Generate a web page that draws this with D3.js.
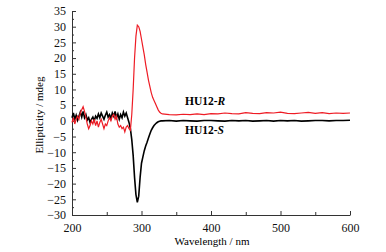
<!DOCTYPE html>
<html>
  <head>
    <meta charset="utf-8">
    <title>CD spectra HU12</title>
    <script src="https://d3js.org/d3.v7.min.js"></script>
    <style>
      body { margin: 0; background: #fff; }
      svg text { font-family: "Times New Roman", "Liberation Serif", Times, serif; }
    </style>
  </head>
  <body>
    <div id="container"></div>
    <script>
      // DATA
      const wlScan = d3.range(200, 331, 2);
      const wlTail = d3.range(340, 601, 10);
      const wavelengths = wlScan.concat(wlTail);

      const hu12S = [
        1.0, 2.5, 0.5, 1.8, 0.2, 1.5, 2.8, 1.2, 3.0, 1.0,
        2.0, 0.3, 1.0, -0.5, 0.5, 1.2, 0.0, 1.5, 0.8, 2.2,
        1.0, 2.5, 1.5, 0.5, 1.8, 2.8, 1.2, 2.0, 0.8, 2.5,
        1.5, 3.0, 1.0, 2.2, 0.5, 2.0, 1.0, 2.8, 1.5, 2.5,
        1.0, -0.5, -2.5, -6, -11, -18, -23.5, -26, -24, -18,
        -13.5, -11.5, -9.5, -8, -6.8, -5.5, -4.2, -3, -2.2, -1.5,
        -1.0, -0.6, -0.3, -0.1, 0, 0,
        0.1, -0.1, 0.1, 0, -0.1, 0.1, 0.1, 0, -0.1, 0.1,
        0, 0.1, -0.1, 0, 0.1, -0.1, 0.1, 0, 0.1, -0.1,
        0, 0.1, 0.1, 0, 0.1, 0.1, 0.2
      ];

      const hu12R = [
        -0.5, 1.0, -1.0, 0.5, 1.5, 0.5, 2.5, 3.5, 4.5, 3.0,
        1.0, -1.0, -2.5, -1.5, 0.0, -1.0, 0.5, -1.5, 0.0, -2.0,
        -0.5, 0.5, -1.0, -2.5, -1.0, -1.5, 0.0, 1.0, 0.0, 1.5,
        2.0, 0.5, 1.5, -1.0, -2.0, -1.5, -2.5, -2.0, -3.5, -2.0,
        -1.5, -2.5, -3.0, 2, 10, 20, 27, 30.5, 30, 28.5,
        26, 23.5, 21, 18, 15.5, 13, 11, 9, 7.5, 6.5,
        5.5, 4.5, 3.5, 2.8, 2.4, 2.2,
        2.0, 1.9, 2.1, 2.0, 2.2, 2.0, 2.3, 2.2, 2.5, 2.3,
        2.2, 2.6, 2.4, 2.3, 2.6, 2.5, 2.8, 2.4, 2.3, 2.5,
        2.7, 2.4, 2.6, 2.3, 2.5, 2.4, 2.5
      ];

      const xTicks = [200, 300, 400, 500, 600];
      const yTicks = d3.range(-30, 36, 5);
      const seriesNames = ["HU12-", "HU12-"];
      const seriesSuffix = ["R", "S"];

      // SIZE
      const width = 386, height = 252;
      const svg = d3.select("#container").append("svg")
        .attr("width", width)
        .attr("height", height);

      const x = d3.scaleLinear().domain([200, 600]).range([72, 350]);
      const y = d3.scaleLinear().domain([-30, 35]).range([215, 11]);

      // AXES (inward ticks)
      const xAxis = svg.append("g").attr("transform", "translate(0,215)");
      xAxis.call(d3.axisBottom(x).tickValues(d3.range(250, 600, 100)).tickSize(-3).tickFormat(""));
      xAxis.call(g => g.select(".domain").remove());
      const xAxisMaj = svg.append("g").attr("transform", "translate(0,215)");
      xAxisMaj.call(d3.axisBottom(x).tickValues(xTicks).tickSizeInner(-4).tickSizeOuter(0).tickPadding(8));

      const yAxis = svg.append("g").attr("transform", "translate(72,0)");
      yAxis.call(d3.axisLeft(y).tickValues(d3.range(-27.5, 35, 5)).tickSize(-2).tickFormat(""));
      yAxis.call(g => g.select(".domain").remove());
      const yAxisMaj = svg.append("g").attr("transform", "translate(72,0)");
      yAxisMaj.call(d3.axisLeft(y).tickValues(yTicks).tickSizeInner(-4).tickSizeOuter(0).tickPadding(6)
        .tickFormat(d => d < 0 ? "\u2212" + Math.abs(d) : d));

      svg.selectAll("g").attr("font-family", null);
      svg.selectAll(".tick text").attr("font-size", 12).attr("fill", "#111");
      svg.selectAll(".domain, .tick line").attr("stroke", "#333").attr("stroke-width", 1);

      // LINES
      const line = s => d3.line()
        .x((d, i) => x(wavelengths[i]))
        .y(d => y(d))(s);

      svg.append("path").attr("d", line(hu12S))
        .attr("fill", "none").attr("stroke", "#000").attr("stroke-width", 1.6);
      svg.append("path").attr("d", line(hu12R))
        .attr("fill", "none").attr("stroke", "#ee1c25").attr("stroke-width", 1.2);

      // LABELS
      const labY = [105, 134];
      seriesNames.forEach((n, i) => {
        const t = svg.append("text").attr("x", 185).attr("y", labY[i])
          .attr("font-size", 11.5).attr("font-weight", "bold").text(n);
        t.append("tspan").attr("font-style", "italic").text(seriesSuffix[i]);
      });

      svg.append("text").attr("x", 212).attr("y", 245).attr("text-anchor", "middle")
        .attr("font-size", 11).text("Wavelength / nm");
      svg.append("text").attr("transform", "translate(43,115) rotate(-90)")
        .attr("text-anchor", "middle").attr("font-size", 11).text("Ellipticity / mdeg");
    </script>
  </body>
</html>
